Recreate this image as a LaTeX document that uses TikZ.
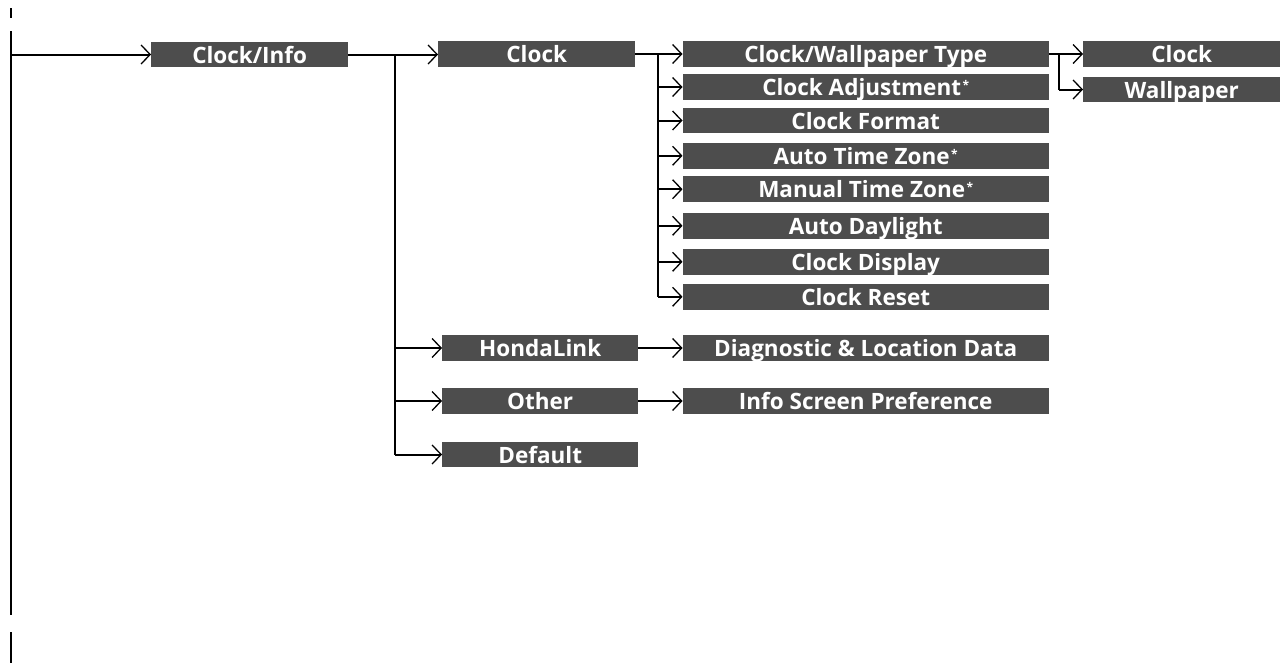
\documentclass[tikz,border=0pt]{standalone}
\usepackage{fontspec}
\setmainfont{Open Sans}
\usetikzlibrary{arrows.meta}
\definecolor{boxgray}{HTML}{4D4D4D}
\newcommand\myast{\hspace{1.5pt}\raisebox{6.5pt}{\fontsize{12}{12}\selectfont *}}
\begin{document}
\begin{tikzpicture}[x=1pt,y=-1pt,
  box/.style={fill=boxgray, text=white, font=\bfseries\fontsize{22.5}{22.5}\selectfont,
    inner sep=0pt, text height=17.5pt, text depth=0pt, minimum height=25.5pt, anchor=west},
  ln/.style={line width=2pt},
  arr/.style={ln, -{Straight Barb[length=9pt,width=19pt,line width=1.3pt]}},
]
\useasboundingbox (0,0) rectangle (1280,664);

% left rail
\coordinate (t1) at (11,8);
\coordinate (t2) at (11,18);
\coordinate (r1) at (11,31);
\coordinate (r2) at (11,615);
\coordinate (r3) at (11,632);
\coordinate (r4) at (11,663);
\coordinate (rL) at (11,54.5);
\draw[line width=1.2pt] (t1) -- (t2);
\draw[line width=2pt] (r1) -- (r2);
\draw[line width=2pt] (r3) -- (r4);

% level 1
\node[box, minimum width=197pt] (ci) at (151,54.5) {Clock/Info};
% level 2
\node[box, minimum width=197pt] (clk) at (438,54) {Clock};
\node[box, minimum width=196pt] (hl) at (442,348) {HondaLink};
\node[box, minimum width=196pt] (oth) at (442,401) {Other};
\node[box, minimum width=196pt] (def) at (442,454.5) {Default};
% level 3
\node[box, minimum width=366pt] (cwt) at (682.5,54) {Clock/Wallpaper Type};
\node[box, minimum width=366pt] (ca) at (682.5,87) {Clock Adjustment\myast};
\node[box, minimum width=366pt] (cf) at (682.5,120.5) {Clock Format};
\node[box, minimum width=366pt] (atz) at (682.5,155.8) {Auto Time Zone\myast};
\node[box, minimum width=366pt] (mtz) at (682.5,189.2) {Manual Time Zone\myast};
\node[box, minimum width=366pt] (ad) at (682.5,225.8) {Auto Daylight};
\node[box, minimum width=366pt] (cd) at (682.5,261.8) {Clock Display};
\node[box, minimum width=366pt] (cr) at (682.5,296.8) {Clock Reset};
\node[box, minimum width=366pt] (dg) at (682.5,348) {Diagnostic \& Location Data};
\node[box, minimum width=366pt] (isp) at (682.5,401) {Info Screen Preference};
% level 4
\node[box, minimum width=197pt] (c4) at (1083,54) {Clock};
\node[box, minimum width=197pt] (wp) at (1083,89.5) {Wallpaper};

% connectors
\draw[arr] (rL) -- (ci.west);

\coordinate (b1) at (395,0);
\draw[arr] (ci.east) -- (ci.east -| clk.west);
\draw[ln] (b1 |- ci.east) -- (b1 |- def.west);
\draw[arr] (b1 |- hl.west) -- (hl.west);
\draw[arr] (b1 |- oth.west) -- (oth.west);
\draw[arr] (b1 |- def.west) -- (def.west);

\coordinate (b2) at (658,0);
\draw[arr] (clk.east) -- (cwt.west);
\draw[ln] (b2 |- clk.east) -- (b2 |- cr.west);
\foreach \n in {ca,cf,atz,mtz,ad,cd,cr}
  \draw[arr] (b2 |- \n.west) -- (\n.west);

\draw[arr] (hl.east) -- (dg.west);
\draw[arr] (oth.east) -- (isp.west);

\coordinate (b3) at (1059,0);
\draw[arr] (cwt.east) -- (c4.west);
\draw[ln] (b3 |- cwt.east) -- (b3 |- wp.west);
\draw[arr] (b3 |- wp.west) -- (wp.west);
\end{tikzpicture}
\end{document}
